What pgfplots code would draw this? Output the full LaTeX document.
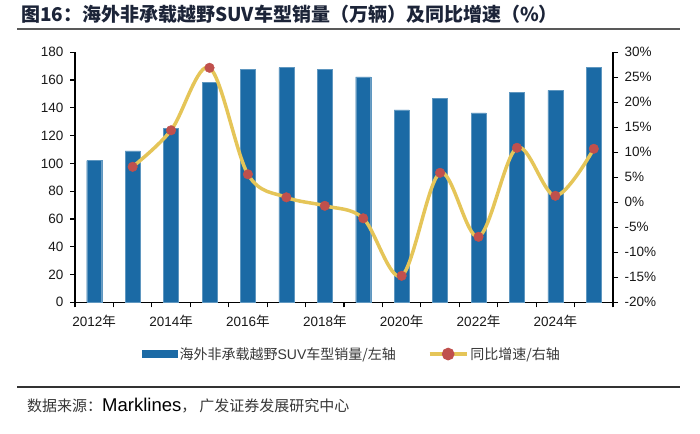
\documentclass[border=0pt]{standalone}
\usepackage{fontspec}
\setmainfont{Liberation Sans}
\newfontfamily\cjk{Noto Sans CJK SC}
\usepackage{pgfplots}
\pgfplotsset{compat=1.18}
\definecolor{barblue}{RGB}{27,106,165}
\definecolor{lineyellow}{RGB}{229,197,88}
\definecolor{markred}{RGB}{192,80,77}
\definecolor{titlecol}{RGB}{28,36,56}
\definecolor{txtgray}{RGB}{55,55,55}
\begin{document}
\begin{tikzpicture}
\useasboundingbox (0,0) rectangle (700pt,433pt);
% title
\node[anchor=west, inner sep=0pt, text=titlecol, font=\fontsize{19}{21}\selectfont\cjk\bfseries] at (21pt,419pt) {图16：海外非承载越野SUV车型销量（万辆）及同比增速（\%）};
\draw[line width=2.2pt, color=black!65] (17pt,404pt) -- (680pt,404pt);
% footer
\draw[line width=1.2pt, color=black!80] (17pt,46pt) -- (680pt,46pt);
\node[anchor=west, inner sep=0pt, text=txtgray, font=\fontsize{15}{17}\selectfont] at (27pt,27pt) {{\cjk 数据来源：}{\fontsize{18.5}{20}\selectfont\color{black}Marklines}{\cjk ，\hspace{3pt}广发证券发展研究中心}};
\begin{axis}[
  at={(75pt,130.7pt)}, anchor=south west, scale only axis,
  width=538pt, height=250pt,
  xmin=-0.5, xmax=13.5, ymin=0, ymax=180,
  axis x line*=bottom, axis y line*=left,
  axis line style={line width=1.3pt, black},
  ytick={0,20,...,180},
  xtick={0,2,...,12},
  xticklabels={2012{\cjk 年},2014{\cjk 年},2016{\cjk 年},2018{\cjk 年},2020{\cjk 年},2022{\cjk 年},2024{\cjk 年}},
  major x tick style={draw=none},
  minor xtick={-0.5,0.5,...,13.5},
  minor tick length=5pt,
  major tick length=5pt,
  tick align=outside,
  tick style={line width=1.2pt, black},
  /pgf/number format/assume math mode=true,
  tick label style={font=\fontsize{13.5}{16}\selectfont, text=black!90},
  xticklabel style={yshift=-4pt},
  yticklabel style={xshift=-3pt},
]
\addplot[ybar, bar width=0.39, fill=barblue, draw=barblue!70!white, line width=0.4pt] coordinates {
(0,102) (1,109) (2,125) (3,158.5) (4,167.5) (5,169) (6,167.8) (7,162.3) (8,138.6) (9,146.6) (10,136.4) (11,151.2) (12,152.6) (13,169)
};
\end{axis}
\begin{axis}[
  at={(75pt,130.7pt)}, anchor=south west, scale only axis,
  width=538pt, height=250pt,
  xmin=-0.5, xmax=13.5, ymin=-20, ymax=30,
  axis x line=none, axis y line*=right,
  axis line style={line width=1.3pt, black},
  ytick={-20,-15,...,30},
  yticklabels={-20\%,-15\%,-10\%,-5\%,0\%,5\%,10\%,15\%,20\%,25\%,30\%},
  major tick length=5pt,
  tick align=outside,
  tick style={line width=1.2pt, black},
  /pgf/number format/assume math mode=true,
  tick label style={font=\fontsize{13.5}{16}\selectfont, text=black!90},
  yticklabel style={xshift=3pt},
  legend style={at={(0.515,-0.207)}, anchor=center, draw=none, fill=none,
    legend columns=2, font=\fontsize{14}{16}\selectfont, text=txtgray,
    /tikz/every even column/.append style={column sep=30pt}},
]
\addlegendimage{legend image code/.code={\fill[barblue] (0pt,-3.5pt) rectangle (35pt,3.5pt);}}
\addlegendentry{{\cjk 海外非承载越野}SUV{\cjk 车型销量/左轴}}
\addplot[lineyellow, line width=3.5pt, smooth, tension=0.55, mark=*, mark size=4.8pt,
  mark options={fill=markred, draw=markred, line width=0.4pt},
  legend image code/.code={\draw[lineyellow,line width=3.5pt] (0pt,0pt) -- (37pt,0pt); \fill[markred] (18.5pt,0pt) circle (4.5pt);}] coordinates {
(1,7.1) (2,14.4) (3,26.9) (4,5.6) (5,1.0) (6,-0.7) (7,-3.2) (8,-14.7) (9,5.9) (10,-6.9) (11,10.9) (12,1.3) (13,10.7)
};
\addlegendentry{{\cjk 同比增速/右轴}}
\end{axis}
\end{tikzpicture}
\end{document}
